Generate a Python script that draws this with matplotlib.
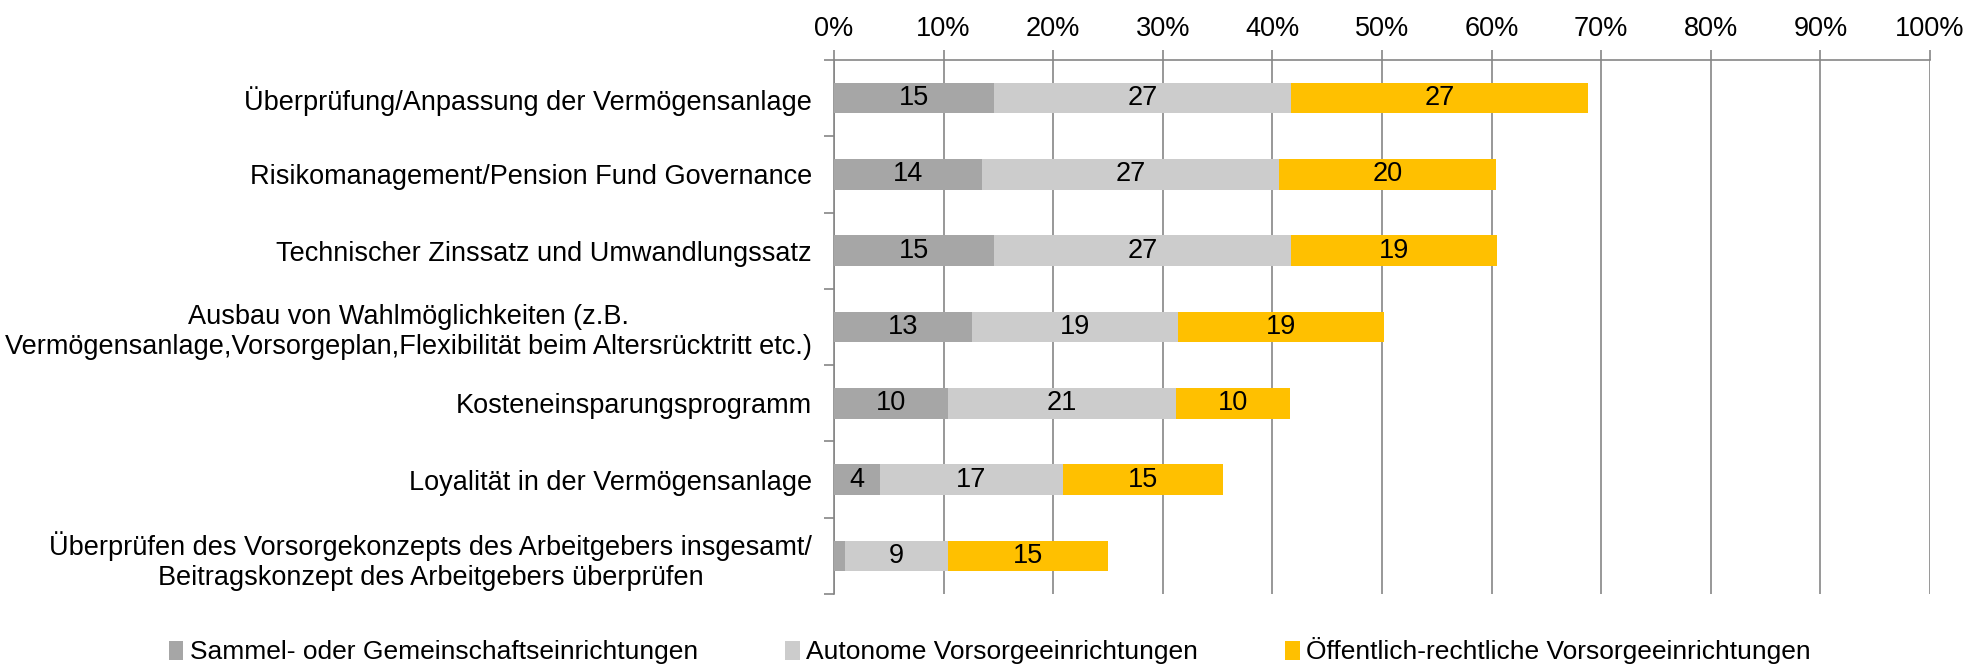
import matplotlib
matplotlib.use("Agg")
import matplotlib.pyplot as plt
import numpy as np

plt.rcParams['font.family'] = ['Liberation Sans', 'DejaVu Sans']

categories = [
    "Überprüfung/Anpassung der Vermögensanlage",
    "Risikomanagement/Pension Fund Governance",
    "Technischer Zinssatz und Umwandlungssatz",
    "Ausbau von Wahlmöglichkeiten (z.B.\nVermögensanlage,Vorsorgeplan,Flexibilität beim Altersrücktritt etc.)",
    "Kosteneinsparungsprogramm",
    "Loyalität in der Vermögensanlage",
    "Überprüfen des Vorsorgekonzepts des Arbeitgebers insgesamt/\nBeitragskonzept des Arbeitgebers überprüfen",
]
series_names = [
    "Sammel- oder Gemeinschaftseinrichtungen",
    "Autonome Vorsorgeeinrichtungen",
    "Öffentlich-rechtliche Vorsorgeeinrichtungen",
]
sammel = [14.6, 13.5, 14.6, 12.6, 10.4, 4.2, 1.0]
autonom = [27.1, 27.1, 27.1, 18.8, 20.8, 16.7, 9.4]
oeffentlich = [27.1, 19.8, 18.8, 18.8, 10.4, 14.6, 14.6]
colors = ["#A6A6A6", "#CCCCCC", "#FFC000"]
xticks = list(range(0, 101, 10))

fig = plt.figure(figsize=(19.82, 6.66), dpi=100)
ax = fig.add_axes([834/1982, 1-594/666, (1930-834)/1982, (594-60)/666])

y = np.arange(len(categories))
left = np.zeros(len(categories))
bars = []
FS = 19.5
for vals, col, name in zip([sammel, autonom, oeffentlich], colors, series_names):
    vals = np.array(vals)
    b = ax.barh(y, vals, left=left, height=0.4, color=col, label=name, zorder=3)
    bars.append(b)
    for yi, (l, v) in enumerate(zip(left, vals)):
        if v >= 2:
            ax.text(l + v/2, yi, f"{v:.0f}", ha='center', va='center', fontsize=FS, color='black', zorder=4)
    left = left + vals

ax.set_ylim(len(categories)-0.5, -0.5)
ax.set_xlim(0, 100)
ax.xaxis.tick_top()
ax.set_xticks(xticks)
ax.set_xticklabels([f"{t}%" for t in xticks], fontsize=FS)
ax.tick_params(axis='x', length=7, color='#868686', width=1.2, pad=6)
ax.grid(axis='x', color='#868686', linewidth=1.2, zorder=0)

ax.set_yticks(y)
ax.set_yticklabels(categories, fontsize=FS, multialignment='center')
ax.set_yticks(np.arange(-0.5, len(categories), 1.0), minor=True)
ax.tick_params(axis='y', which='major', length=0, pad=16)
ax.tick_params(axis='y', which='minor', length=7, color='#868686', width=1.2)

for s in ['right', 'bottom']:
    ax.spines[s].set_visible(False)
for s in ['top', 'left']:
    ax.spines[s].set_color('#868686')
    ax.spines[s].set_linewidth(1.2)

fig.legend(handles=bars, labels=series_names, loc='center', bbox_to_anchor=(0.4995, 1-651/666),
           ncol=3, frameon=False, fontsize=19, handlelength=0.55, handleheight=0.7,
           handletextpad=0.25, columnspacing=3.3)

fig.savefig("out.png", dpi=100)
